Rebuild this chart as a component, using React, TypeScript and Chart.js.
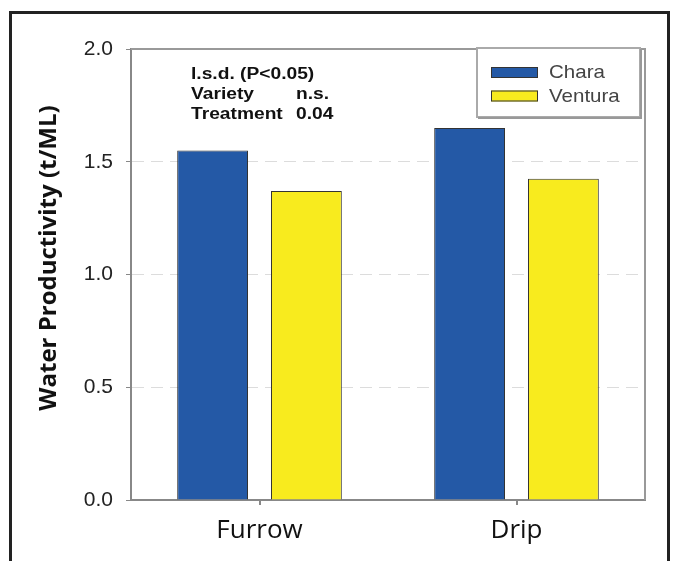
import React, { useEffect, useRef } from "react";
import { Chart, registerables } from "chart.js";

Chart.register(...registerables);

const categories = ["Furrow", "Drip"];
const seriesNames = ["Chara", "Ventura"];
const charaValues = [1.55, 1.65];
const venturaValues = [1.37, 1.425];
const yTicks = [0, 0.5, 1.0, 1.5, 2.0];
const yTitle = "Water Productivity (t/ML)";
const annotationLines = [
  ["l.s.d. (P<0.05)", ""],
  ["Variety", "n.s."],
  ["Treatment", "0.04"],
];

const BLUE = "#2459a6";
const YELLOW = "#f8eb1e";

function stretchedText(ctx: any, text: string, x: number, y: number, sx: number) {
  ctx.save();
  ctx.translate(x, y);
  ctx.scale(sx, 1);
  ctx.fillText(text, 0, 0);
  ctx.restore();
}

const decorPlugin = {
  id: "decor",
  afterDatasetsDraw(chart: any) {
    const { ctx, chartArea } = chart;
    ctx.save();
    // plot box top & right
    ctx.strokeStyle = "#999";
    ctx.lineWidth = 2;
    ctx.beginPath();
    ctx.moveTo(chartArea.left, chartArea.top);
    ctx.lineTo(chartArea.right, chartArea.top);
    ctx.lineTo(chartArea.right, chartArea.bottom);
    ctx.stroke();

    // y title
    ctx.save();
    ctx.translate(49, 258);
    ctx.rotate(-Math.PI / 2);
    ctx.fillStyle = "#111";
    ctx.font = "bold 24px 'Open Sans', sans-serif";
    ctx.textAlign = "center";
    ctx.textBaseline = "middle";
    ctx.fillText(yTitle, 0, 0);
    ctx.restore();

    // annotation
    ctx.fillStyle = "#111";
    ctx.font = "bold 16px 'Liberation Sans', Arial, sans-serif";
    ctx.textBaseline = "middle";
    ctx.textAlign = "left";
    annotationLines.forEach((ln, i) => {
      const y = 75 + i * 20;
      stretchedText(ctx, ln[0], 191, y, 1.2);
      if (ln[1]) stretchedText(ctx, ln[1], 296, y, 1.2);
    });

    // legend
    const lx = 477, ly = 48, lw = 163, lh = 69;
    ctx.fillStyle = "#fff";
    ctx.fillRect(lx, ly, lw, lh);
    ctx.strokeStyle = "#aaa";
    ctx.lineWidth = 2;
    ctx.strokeRect(lx, ly, lw, lh);
    ctx.strokeStyle = "#999";
    ctx.beginPath();
    ctx.moveTo(lx + 1, ly + lh + 1);
    ctx.lineTo(lx + lw + 1, ly + lh + 1);
    ctx.lineTo(lx + lw + 1, ly + 1);
    ctx.stroke();
    ctx.font = "19px 'Liberation Sans', Arial, sans-serif";
    chart.data.datasets.forEach((ds: any, i: number) => {
      const cy = 72 + i * 23.5;
      ctx.fillStyle = ds.backgroundColor;
      ctx.fillRect(491, cy - 5, 47, 11);
      ctx.strokeStyle = "#333";
      ctx.lineWidth = 1;
      ctx.strokeRect(491.5, cy - 4.5, 46, 10);
      ctx.fillStyle = "#444";
      stretchedText(ctx, ds.label, 549, cy + 1, 1.08);
    });

    // outer frame
    ctx.strokeStyle = "#222";
    ctx.lineWidth = 3;
    ctx.beginPath();
    ctx.moveTo(10.5, 600);
    ctx.lineTo(10.5, 12.5);
    ctx.lineTo(668.5, 12.5);
    ctx.lineTo(668.5, 600);
    ctx.stroke();
    ctx.restore();
  },
};

export default function App() {
  const ref = useRef<HTMLCanvasElement | null>(null);
  useEffect(() => {
    document.body.style.margin = "0";
    const canvas = ref.current!;
    const chart = new Chart(canvas, {
      type: "bar",
      data: {
        labels: categories,
        datasets: [
          {
            label: seriesNames[0],
            data: charaValues,
            backgroundColor: BLUE,
            borderColor: "#333",
            borderWidth: 1,
          },
          {
            label: seriesNames[1],
            data: venturaValues,
            backgroundColor: YELLOW,
            borderColor: "#333",
            borderWidth: 1,
          },
        ],
      },
      options: {
        animation: false,
        responsive: false,
        maintainAspectRatio: false,
        layout: { padding: { top: 49, right: 32, left: 0, bottom: 0 } },
        datasets: { bar: { categoryPercentage: 0.73, barPercentage: 0.755 } },
        plugins: {
          legend: { display: false },
          tooltip: { enabled: false },
        },
        scales: {
          x: {
            afterFit(scale: any) {
              scale.height = 61;
            },
            grid: {
              offset: false,
              drawOnChartArea: false,
              drawTicks: true,
              tickLength: 5,
              tickColor: "#888",
              lineWidth: 2,
            },
            border: { color: "#888", width: 2 },
            ticks: {
              color: "#111",
              font: { family: "'Open Sans', sans-serif", size: 26 },
              padding: 10,
            },
          },
          y: {
            min: 0,
            max: 2,
            afterFit(scale: any) {
              scale.width = 131;
            },
            afterBuildTicks(scale: any) {
              scale.ticks = yTicks.map((v) => ({ value: v }));
            },
            grid: {
              color: (c: any) =>
                c.tick && (c.tick.value === 0 || c.tick.value === 2) ? "rgba(0,0,0,0)" : "#dcdcdc",
              tickColor: "#888",
              tickLength: 5,
              lineWidth: 1,
            },
            border: { color: "#888", width: 2, dash: [12, 7] },
            ticks: {
              color: "#222",
              font: { family: "'Liberation Sans', Arial, sans-serif", size: 21 },
              padding: 13,
              callback: (v: any) => Number(v).toFixed(1),
            },
          },
        },
      } as any,
      plugins: [decorPlugin],
    });
    return () => chart.destroy();
  }, []);
  return <canvas ref={ref} width={677} height={561} style={{ display: "block", width: 677, height: 561 }} />;
}
